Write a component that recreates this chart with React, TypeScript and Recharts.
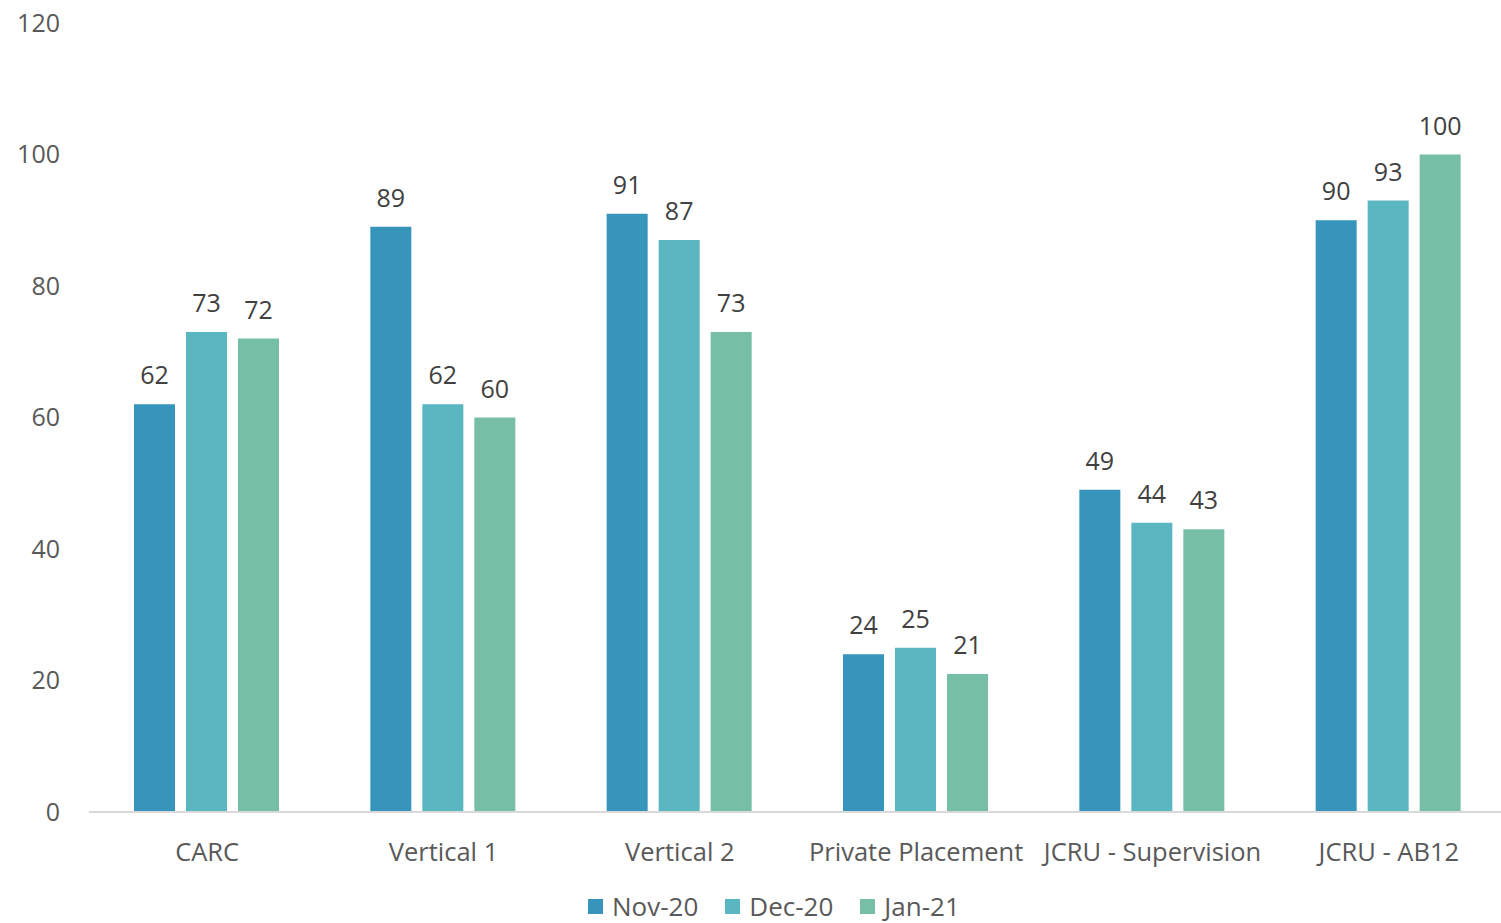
import React from "react";
import { BarChart, Bar, XAxis, YAxis, LabelList, Legend } from "recharts";

const categories = ["CARC", "Vertical 1", "Vertical 2", "Private Placement", "JCRU - Supervision", "JCRU - AB12"];
const nov20 = [62, 89, 91, 24, 49, 90];
const dec20 = [73, 62, 87, 25, 44, 93];
const jan21 = [72, 60, 73, 21, 43, 100];
const yTicks = [0, 20, 40, 60, 80, 100, 120];

const seriesList = [
  { key: "nov", name: "Nov-20", color: "#3795BC", values: nov20 },
  { key: "dec", name: "Dec-20", color: "#5AB6C0", values: dec20 },
  { key: "jan", name: "Jan-21", color: "#76BEA6", values: jan21 },
];

const data = categories.map((c, i) => {
  const row: Record<string, string | number> = { category: c };
  seriesList.forEach((s) => {
    row[s.key] = s.values[i];
  });
  return row;
});

const FONT = "'Open Sans', sans-serif";

const LegendContent = () => (
  <div style={{ display: "flex", alignItems: "center", height: 28, fontFamily: FONT, fontSize: 26, color: "#595959" }}>
    {seriesList.map((s) => (
      <div key={s.key} style={{ display: "flex", alignItems: "center", marginRight: 27 }}>
        <div style={{ width: 15, height: 15, background: s.color, marginRight: 9 }} />
        <span style={{ lineHeight: "28px" }}>{s.name}</span>
      </div>
    ))}
  </div>
);

export default function App() {
  return (
    <div style={{ position: "absolute", left: 0, top: 0, width: 1501, height: 923, overflow: "hidden", background: "#fff" }}>
      <BarChart
        width={1507}
        height={923}
        data={data}
        margin={{ top: 23, right: 0, bottom: 0, left: 0 }}
        barCategoryGap={45}
        barGap={11}
      >
        <XAxis
          dataKey="category"
          axisLine={{ stroke: "#D9D9D9", strokeWidth: 2 }}
          tickLine={false}
          tickSize={0}
          tickMargin={31}
          height={83}
          interval={0}
          tick={{ fill: "#595959", fontSize: 25.5, fontFamily: FONT }}
        />
        <YAxis
          domain={[0, 120]}
          ticks={yTicks}
          axisLine={false}
          tickLine={false}
          tickSize={0}
          tickMargin={29}
          width={89}
          tick={{ fill: "#595959", fontSize: 25, fontFamily: FONT }}
        />
        <Legend
          verticalAlign="bottom"
          content={<LegendContent />}
          wrapperStyle={{ left: 588, top: 892, width: "auto", height: 28 }}
        />
        {seriesList.map((s) => (
          <Bar key={s.key} dataKey={s.key} name={s.name} fill={s.color} isAnimationActive={false}>
            <LabelList
              dataKey={s.key}
              position="top"
              offset={20}
              fill="#404040"
              fontSize={25}
              fontFamily={FONT}
            />
          </Bar>
        ))}
      </BarChart>
    </div>
  );
}
